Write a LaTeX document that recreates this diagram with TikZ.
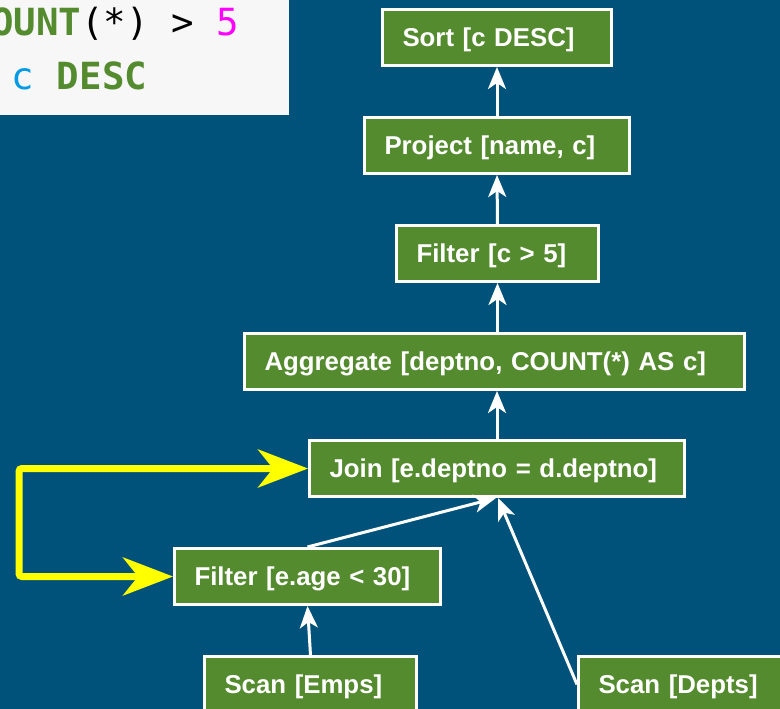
\documentclass[tikz,border=0pt]{standalone}
\usepackage{fontspec}
\setmainfont{Liberation Sans}
\newfontfamily\codefont{DejaVu Sans Mono}
\usetikzlibrary{arrows.meta}

\definecolor{bgblue}{HTML}{00527A}
\definecolor{opgreen}{HTML}{558B2F}
\definecolor{codebg}{HTML}{F7F7F7}
\definecolor{kwgreen}{HTML}{558B2F}
\definecolor{numpink}{HTML}{FF00FF}
\definecolor{idblue}{HTML}{039BE5}
\definecolor{hiyellow}{HTML}{FFFF00}

\tikzset{
  op/.style={draw=white, line width=3pt, fill=opgreen, text=white,
    anchor=north west, minimum height=56pt, inner xsep=20pt, inner ysep=0pt,
    align=left, text height=18.5pt, text depth=0pt,
    font=\bfseries\fontsize{25.8}{30}\selectfont},
  flow/.style={draw=white, line width=3pt,
    -{Stealth[length=22pt,width=18pt,inset=6pt]}},
  hint/.style={draw=hiyellow, line width=7pt, rounded corners=3pt,
    {Stealth[length=50pt,width=38pt,inset=15pt]}-{Stealth[length=50pt,width=38pt,inset=15pt]}},
  code/.style={anchor=base west, inner sep=0pt,
    font=\codefont\fontsize{37.4}{40}\selectfont}
}

\begin{document}
\begin{tikzpicture}[x=1pt,y=1pt]
  \useasboundingbox (0,0) rectangle (780,-709);
  \fill[bgblue] (0,0) rectangle (780,-709);
  \clip (0,0) rectangle (780,-709);

  % SQL snippet panel (the query runs past its left edge)
  \fill[codebg] (0,0) rectangle (289,-115);
  \begin{scope}
    \clip (0,0) rectangle (289,-115);
    \node[code] (sqlone) at (-9,-36)
      {{\bfseries\color{kwgreen}OUNT}\color{black}(*) > {\color{numpink}5}};
    \node[code] (sqltwo) at (11.75,-89)
      {{\color{idblue}c} {\bfseries\color{kwgreen}DESC}};
  \end{scope}

  % plan operators
  \node[op, text width=189pt] (sort)    at (381,-8)   {Sort [c DESC]};
  \node[op, text width=225pt] (proj)    at (363,-116) {Project [name, c]};
  \node[op, text width=162pt] (filt)    at (395,-224) {Filter [c > 5]};
  \node[op, text width=460pt] (agg)     at (243,-332) {Aggregate [deptno, COUNT(*) AS c]};
  \node[op, text width=335pt] (join)    at (308,-439) {Join [e.deptno = d.deptno]};
  \node[op, text width=226pt] (filtage) at (173,-547) {Filter [e.age < 30]};
  \node[op, text width=172pt] (scane)   at (203,-655) {Scan [Emps]};
  \node[op, text width=175pt] (scand)   at (577,-655) {Scan [Depts]};

  % data flow
  \draw[flow] (proj.north) -- (sort.south);
  \draw[flow] (filt.north) -- (proj.south);
  \draw[flow] (agg.north -| filt.south) -- (filt.south);
  \draw[flow] (join.north) -- (join.north |- agg.south);
  \draw[flow] (filtage.north) -- ([xshift=-1pt]join.south);
  \draw[flow] (scand.west) -- ([xshift=1pt]join.south);
  \draw[flow] (scane.north) -- (filtage.south);

  % pushdown hint
  \draw[hint] (join.west) -- ++(-289,0) |- (filtage.west);
\end{tikzpicture}
\end{document}
